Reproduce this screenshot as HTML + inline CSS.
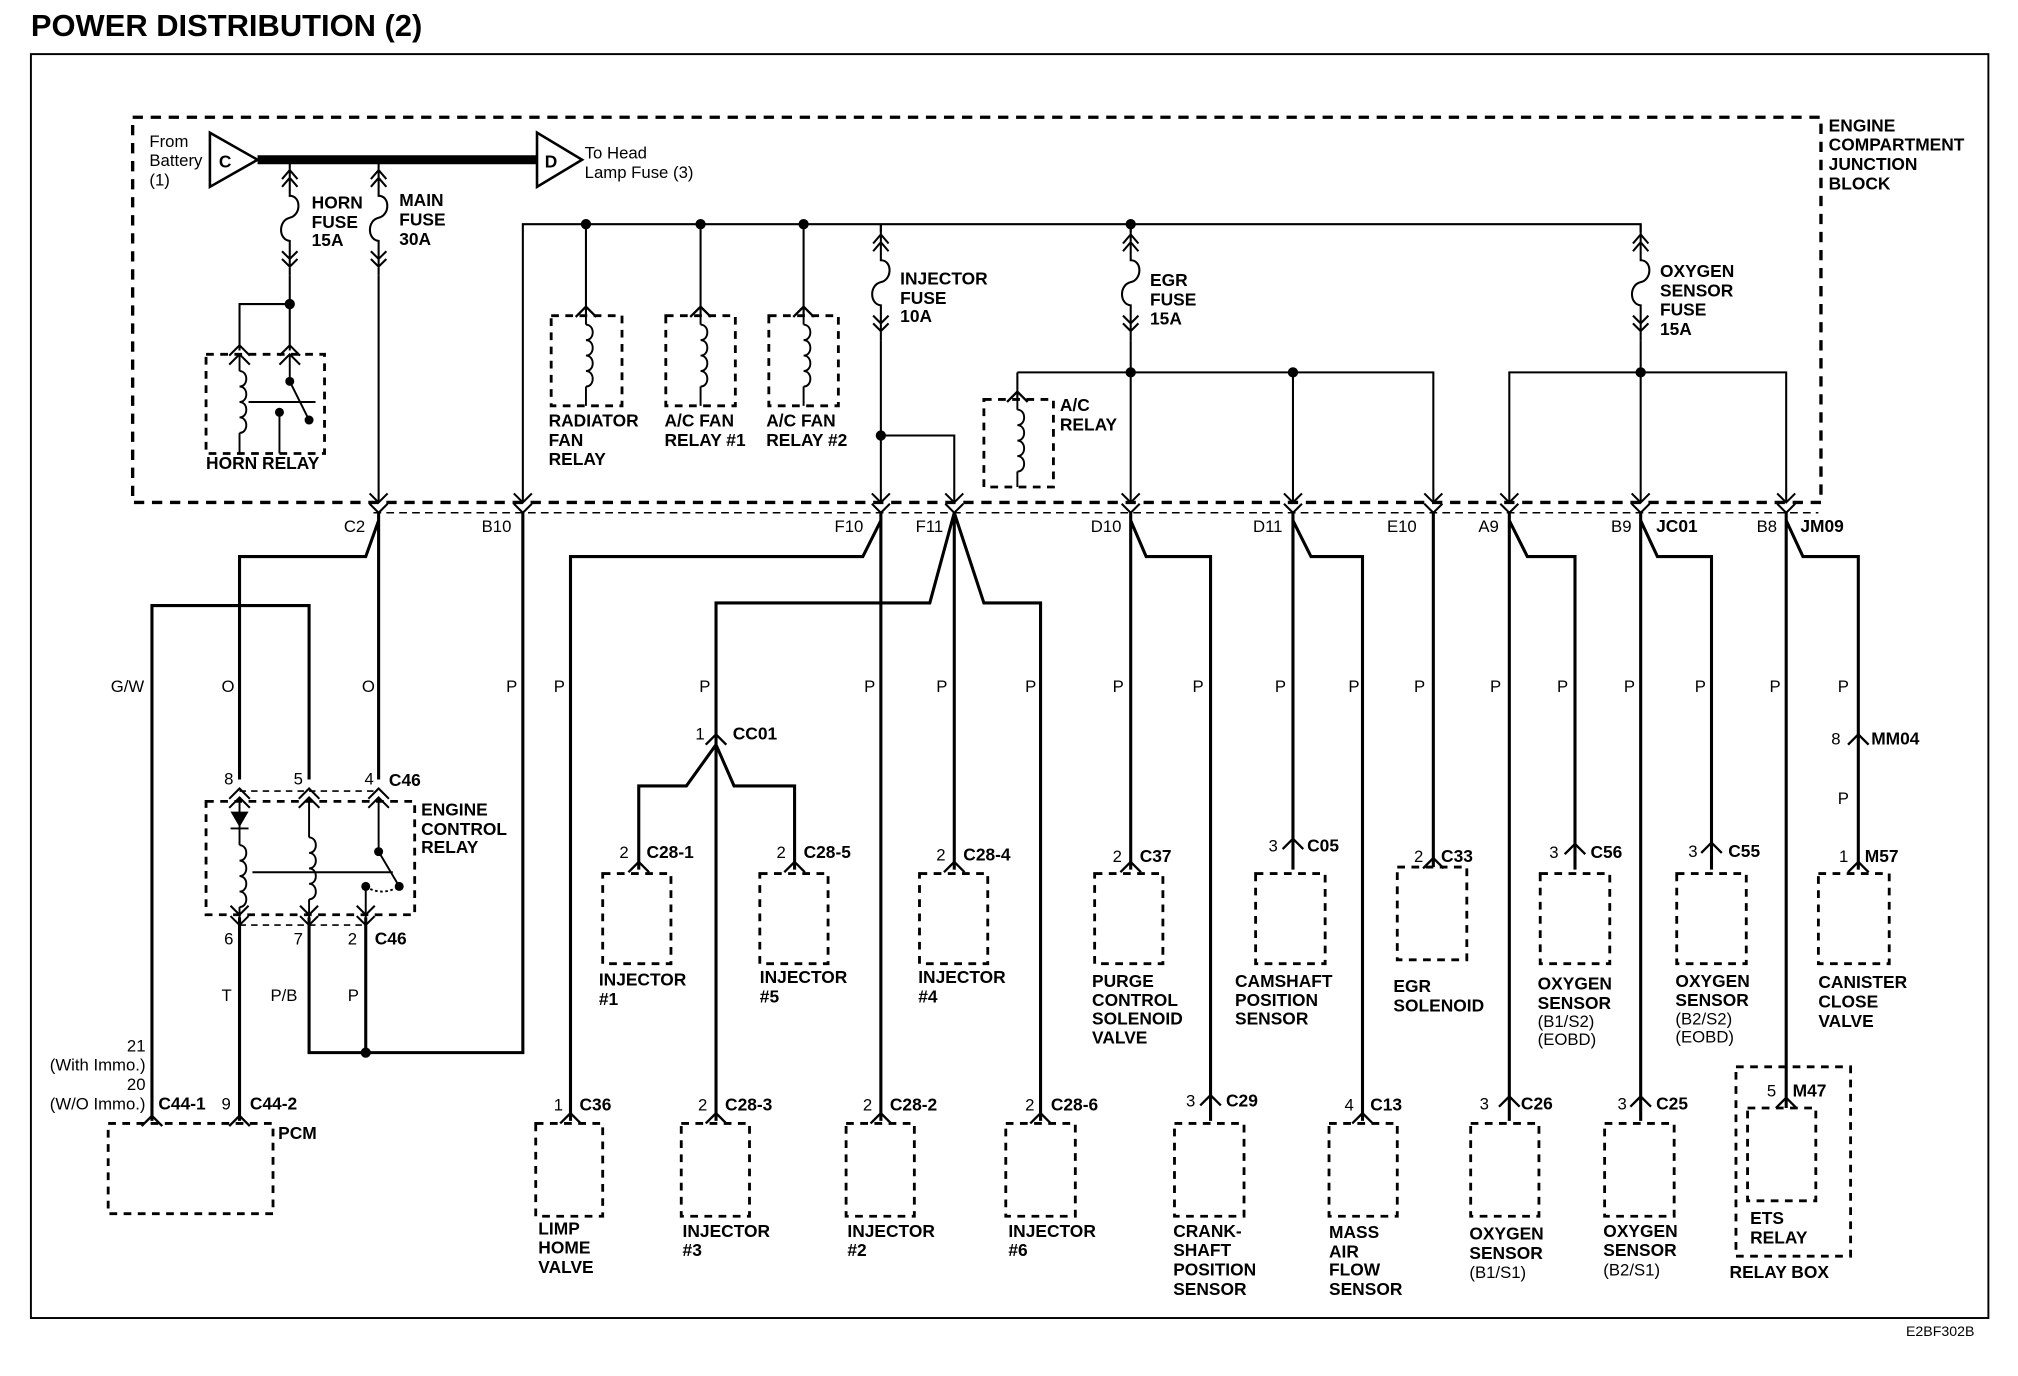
<!DOCTYPE html>
<html><head><meta charset="utf-8"><style>
html,body{margin:0;padding:0;background:#fff}
svg{display:block}
text{font-family:"Liberation Sans",Arial,sans-serif;fill:#000}
.b{font-weight:bold;font-size:13.5px}
.r{font-size:13px}
.t{font-weight:bold;font-size:24px}
</style></head><body>
<svg width="2018" height="1376" viewBox="0 0 1567 1068" preserveAspectRatio="none" xmlns="http://www.w3.org/2000/svg">
<defs>
<path id="cd" d="M-7,-15 L0,-8 L7,-15 M-7,-7 L0,0 L7,-7" fill="none" stroke="#000" stroke-width="1.6"/>
<path id="cu" d="M-8,8 L0,0 L8,8" fill="none" stroke="#000" stroke-width="1.8"/>
<path id="cu2" d="M-8,8 L0,0 L8,8 M-8,15 L0,7 L8,15" fill="none" stroke="#000" stroke-width="1.6"/>
<path id="fz" d="M0,0 V8 M-6,15 L0,8 L6,15 M-6,21 L0,14 L6,21 M0,8 V28 c9,0 9,15 0,17 c-9,2 -9,17 0,18 V81 M-6,71 L0,77 L6,71 M-6,77 L0,83 L6,77 M0,77 V90" fill="none" stroke="#000" stroke-width="1.6"/>
<path id="cl" d="M0,0 c7,0 7,12 0,12 c7,0 7,12 0,12 c7,0 7,12 0,12 c7,0 7,12 0,12" fill="none" stroke="#000" stroke-width="1.5"/>
</defs>
<rect width="1567" height="1068" fill="#fff"/>
<text x="24" y="28" class="t">POWER DISTRIBUTION (2)</text>
<rect x="24" y="42" width="1520" height="981" fill="none" stroke="#000" stroke-width="1.5"/>
<text x="1480" y="1037" class="r" style="font-size:11px">E2BF302B</text>

<rect x="103" y="91" width="1311" height="299" fill="none" stroke="#000" stroke-width="2.6" stroke-dasharray="8,6"/>
<text class="b"><tspan x="1420" y="102">ENGINE</tspan><tspan x="1420" y="117">COMPARTMENT</tspan><tspan x="1420" y="132">JUNCTION</tspan><tspan x="1420" y="147">BLOCK</tspan></text>
<line x1="290" y1="398" x2="1412" y2="398" stroke="#000" stroke-width="1.2" stroke-dasharray="6,4"/>

<text class="r"><tspan x="116" y="114">From</tspan><tspan x="116" y="129">Battery</tspan><tspan x="116" y="144">(1)</tspan></text>
<polygon points="163,103 163,145 200,124" fill="#fff" stroke="#000" stroke-width="2"/>
<text x="170" y="130" class="b">C</text>
<line x1="200" y1="124" x2="418" y2="124" stroke="#000" stroke-width="7"/>
<polygon points="417,103 417,145 452,124" fill="#fff" stroke="#000" stroke-width="2"/>
<text x="423" y="130" class="b">D</text>
<text class="r"><tspan x="454" y="123">To Head</tspan><tspan x="454" y="138">Lamp Fuse (3)</tspan></text>

<g fill="none" stroke="#000" stroke-width="1.6">
<use href="#fz" x="225" y="124"/>
<use href="#fz" x="294" y="124"/>
<path d="M225,214 V272 M225,236 H186 V272 M294,214 V390"/>
<path d="M406,390 V174 H1274 V180 M455,174 V245 M544,174 V245 M624,174 V245 M684,174 V180 M684,264 V390 M684,338 H741 V390 M878,174 V180 M878,264 V390 M790,289 H1113 V390 M790,289 V310 M1004,289 V390 M1274,264 V390 M1172,390 V289 H1387 V390"/>
</g>
<use href="#fz" x="684" y="174"/>
<use href="#fz" x="878" y="174"/>
<use href="#fz" x="1274" y="174"/>
<g fill="#000">
<circle cx="225" cy="236" r="4"/><circle cx="455" cy="174" r="4"/><circle cx="544" cy="174" r="4"/><circle cx="624" cy="174" r="4"/><circle cx="878" cy="174" r="4"/><circle cx="684" cy="338" r="4"/><circle cx="878" cy="289" r="4"/><circle cx="1004" cy="289" r="4"/><circle cx="1274" cy="289" r="4"/>
</g>
<text class="b"><tspan x="242" y="162">HORN</tspan><tspan x="242" y="177">FUSE</tspan><tspan x="242" y="191">15A</tspan></text>
<text class="b"><tspan x="310" y="160">MAIN</tspan><tspan x="310" y="175">FUSE</tspan><tspan x="310" y="190">30A</tspan></text>
<text class="b"><tspan x="699" y="221">INJECTOR</tspan><tspan x="699" y="236">FUSE</tspan><tspan x="699" y="250">10A</tspan></text>
<text class="b"><tspan x="893" y="222">EGR</tspan><tspan x="893" y="237">FUSE</tspan><tspan x="893" y="252">15A</tspan></text>
<text class="b"><tspan x="1289" y="215">OXYGEN</tspan><tspan x="1289" y="230">SENSOR</tspan><tspan x="1289" y="245">FUSE</tspan><tspan x="1289" y="260">15A</tspan></text>

<rect x="160" y="275" width="92" height="77" fill="none" stroke="#000" stroke-width="2.2" stroke-dasharray="6,5"/>
<use href="#cu2" x="186" y="268"/><use href="#cu2" x="225" y="268"/>
<g fill="none" stroke="#000" stroke-width="1.5">
<path d="M186,276 V288"/><use href="#cl" x="186" y="288"/><path d="M186,336 V352 M225,276 V296 L240,326 M217,320 V352 M193,312 H245" />
</g>
<circle cx="225" cy="296" r="3.5"/><circle cx="240" cy="326" r="3.5"/><circle cx="217" cy="320" r="3.5"/>
<text x="160" y="364" class="b">HORN RELAY</text>

<g fill="none" stroke="#000" stroke-width="2.2" stroke-dasharray="6,5">
<rect x="428" y="245" width="55" height="70"/><rect x="517" y="245" width="54" height="70"/><rect x="597" y="245" width="54" height="70"/><rect x="764" y="310" width="54" height="68"/>
</g>
<use href="#cu" x="455" y="238"/><use href="#cu" x="544" y="238"/><use href="#cu" x="624" y="238"/><use href="#cu" x="790" y="304"/>
<use href="#cl" x="455" y="252"/><use href="#cl" x="544" y="252"/><use href="#cl" x="624" y="252"/><use href="#cl" x="790" y="318"/>
<g stroke="#000" stroke-width="1.5"><path d="M455,238 V252 M455,300 V315 M544,238 V252 M544,300 V315 M624,238 V252 M624,300 V315 M790,304 V318 M790,366 V378"/></g>
<text class="b"><tspan x="426" y="331">RADIATOR</tspan><tspan x="426" y="346">FAN</tspan><tspan x="426" y="361">RELAY</tspan></text>
<text class="b"><tspan x="516" y="331">A/C FAN</tspan><tspan x="516" y="346">RELAY #1</tspan></text>
<text class="b"><tspan x="595" y="331">A/C FAN</tspan><tspan x="595" y="346">RELAY #2</tspan></text>
<text class="b"><tspan x="823" y="319">A/C</tspan><tspan x="823" y="334">RELAY</tspan></text>

<use href="#cd" x="294" y="398"/><use href="#cd" x="406" y="398"/><use href="#cd" x="684" y="398"/><use href="#cd" x="741" y="398"/><use href="#cd" x="878" y="398"/><use href="#cd" x="1004" y="398"/><use href="#cd" x="1113" y="398"/><use href="#cd" x="1172" y="398"/><use href="#cd" x="1274" y="398"/><use href="#cd" x="1387" y="398"/>
<g class="r"><text x="267" y="413">C2</text><text x="374" y="413">B10</text><text x="648" y="413">F10</text><text x="711" y="413">F11</text><text x="847" y="413">D10</text><text x="973" y="413">D11</text><text x="1077" y="413">E10</text><text x="1148" y="413">A9</text><text x="1251" y="413">B9</text><text x="1364" y="413">B8</text></g>
<text x="1286" y="413" class="b">JC01</text><text x="1398" y="413" class="b">JM09</text>

<g fill="none" stroke="#000" stroke-width="2.4">
<path d="M294,398 V605 M294,404 L284,432 H186 V605 M118,870 V470 H240 V605"/>
<path d="M186,712 V870 M240,712 V817 H406 V398 M284,712 V817"/>
<path d="M684,398 V870 M684,404 L670,432 H443 V870"/>
<path d="M741,398 L722,468 H556 V870 M741,398 L764,468 H808 V870 M741,398 V675 M556,578 L533,610 H496 V675 M556,578 L570,610 H617 V675"/>
<path d="M878,398 V675 M878,404 L890,432 H940 V870"/>
<path d="M1004,398 V675 M1004,404 L1018,432 H1058 V870"/>
<path d="M1113,398 V673"/>
<path d="M1172,398 V870 M1172,404 L1186,432 H1223 V675"/>
<path d="M1274,398 V870 M1274,404 L1287,432 H1329 V675"/>
<path d="M1387,398 V860 M1387,404 L1400,432 H1443 V675"/>
</g>
<circle cx="284" cy="817" r="4"/>

<g class="r">
<text x="86" y="537">G/W</text><text x="172" y="537">O</text><text x="281" y="537">O</text><text x="393" y="537">P</text><text x="430" y="537">P</text><text x="543" y="537">P</text><text x="671" y="537">P</text><text x="727" y="537">P</text><text x="796" y="537">P</text><text x="864" y="537">P</text><text x="926" y="537">P</text><text x="990" y="537">P</text><text x="1047" y="537">P</text><text x="1098" y="537">P</text><text x="1157" y="537">P</text><text x="1209" y="537">P</text><text x="1261" y="537">P</text><text x="1316" y="537">P</text><text x="1374" y="537">P</text><text x="1427" y="537">P</text><text x="1427" y="624">P</text>
<text x="172" y="777">T</text><text x="210" y="777">P/B</text><text x="270" y="777">P</text>
</g>

<rect x="160" y="622" width="162" height="88" fill="none" stroke="#000" stroke-width="2.2" stroke-dasharray="6,5"/>
<line x1="186" y1="614" x2="294" y2="614" stroke="#000" stroke-width="1.2" stroke-dasharray="5,4"/>
<line x1="186" y1="718" x2="284" y2="718" stroke="#000" stroke-width="1.2" stroke-dasharray="5,4"/>
<use href="#cu2" x="186" y="612"/><use href="#cu2" x="240" y="612"/><use href="#cu2" x="294" y="612"/>
<use href="#cd" x="186" y="718"/><use href="#cd" x="240" y="718"/><use href="#cd" x="284" y="718"/>
<polygon points="179,630 193,630 186,642" fill="#000"/>
<g fill="none" stroke="#000" stroke-width="1.5">
<path d="M186,620 V656 M179,643 H193"/><use href="#cl" x="186" y="656"/><path d="M186,704 V718"/>
<path d="M240,620 V650"/><use href="#cl" x="240" y="650"/><path d="M240,698 V718"/>
<path d="M294,620 V661 L310,688 M284,688 V718 M196,677 H305"/>
<path d="M284,688 Q296,696 310,688" stroke-dasharray="2,2"/>
</g>
<circle cx="294" cy="661" r="3.5"/><circle cx="310" cy="688" r="3.5"/><circle cx="284" cy="688" r="3.5"/>
<g class="r"><text x="174" y="609">8</text><text x="228" y="609">5</text><text x="283" y="609">4</text><text x="174" y="733">6</text><text x="228" y="733">7</text><text x="270" y="733">2</text></g>
<text x="302" y="610" class="b">C46</text><text x="291" y="733" class="b">C46</text>
<text class="b"><tspan x="327" y="633">ENGINE</tspan><tspan x="327" y="648">CONTROL</tspan><tspan x="327" y="662">RELAY</tspan></text>

<rect x="84" y="872" width="128" height="70" fill="none" stroke="#000" stroke-width="2.2" stroke-dasharray="6,5"/>
<use href="#cu" x="118" y="866"/><use href="#cu" x="186" y="866"/>
<g class="r" text-anchor="end"><text x="113" y="816">21</text><text x="113" y="831">(With Immo.)</text><text x="113" y="846">20</text><text x="113" y="861">(W/O Immo.)</text></g>
<text x="172" y="861" class="r">9</text>
<text x="123" y="861" class="b">C44-1</text><text x="194" y="861" class="b">C44-2</text><text x="216" y="884" class="b">PCM</text>

<use href="#cu" x="556" y="570"/><text x="540" y="574" class="r">1</text><text x="569" y="574" class="b">CC01</text>
<use href="#cu" x="1443" y="570"/><text x="1422" y="578" class="r">8</text><text x="1453" y="578" class="b">MM04</text>

<g fill="none" stroke="#000" stroke-width="2.2" stroke-dasharray="6,5">
<rect x="468" y="678" width="53" height="70"/><rect x="590" y="678" width="53" height="70"/><rect x="714" y="678" width="53" height="70"/><rect x="850" y="678" width="53" height="70"/><rect x="975" y="678" width="54" height="70"/><rect x="1085" y="673" width="54" height="72"/><rect x="1196" y="678" width="54" height="70"/><rect x="1302" y="678" width="54" height="70"/><rect x="1412" y="678" width="55" height="70"/>
<rect x="416" y="872" width="52" height="72"/><rect x="529" y="872" width="53" height="72"/><rect x="657" y="872" width="53" height="72"/><rect x="781" y="872" width="54" height="72"/><rect x="912" y="872" width="54" height="72"/><rect x="1032" y="872" width="53" height="72"/><rect x="1142" y="872" width="53" height="72"/><rect x="1246" y="872" width="54" height="72"/>
<rect x="1348" y="828" width="89" height="147"/><rect x="1357" y="860" width="53" height="72"/>
</g>
<use href="#cu" x="496" y="669"/><use href="#cu" x="617" y="669"/><use href="#cu" x="741" y="669"/><use href="#cu" x="878" y="669"/><use href="#cu" x="1004" y="651"/><use href="#cu" x="1113" y="666"/><use href="#cu" x="1223" y="655"/><use href="#cu" x="1329" y="654"/><use href="#cu" x="1443" y="669"/>
<use href="#cu" x="443" y="864"/><use href="#cu" x="556" y="864"/><use href="#cu" x="684" y="864"/><use href="#cu" x="808" y="864"/><use href="#cu" x="940" y="850"/><use href="#cu" x="1058" y="864"/><use href="#cu" x="1172" y="851"/><use href="#cu" x="1274" y="851"/><use href="#cu" x="1387" y="852"/>
<g class="r">
<text x="481" y="666">2</text><text x="603" y="666">2</text><text x="727" y="668">2</text><text x="864" y="669">2</text><text x="985" y="661">3</text><text x="1098" y="669">2</text><text x="1203" y="666">3</text><text x="1311" y="665">3</text><text x="1428" y="669">1</text>
<text x="430" y="862">1</text><text x="542" y="862">2</text><text x="670" y="862">2</text><text x="796" y="862">2</text><text x="921" y="859">3</text><text x="1044" y="862">4</text><text x="1149" y="861">3</text><text x="1256" y="861">3</text><text x="1372" y="851">5</text>
</g>
<g class="b">
<text x="502" y="666">C28-1</text><text x="624" y="666">C28-5</text><text x="748" y="668">C28-4</text><text x="885" y="669">C37</text><text x="1015" y="661">C05</text><text x="1119" y="669">C33</text><text x="1235" y="666">C56</text><text x="1342" y="665">C55</text><text x="1448" y="669">M57</text>
<text x="450" y="862">C36</text><text x="563" y="862">C28-3</text><text x="691" y="862">C28-2</text><text x="816" y="862">C28-6</text><text x="952" y="859">C29</text><text x="1064" y="862">C13</text><text x="1181" y="861">C26</text><text x="1286" y="861">C25</text><text x="1392" y="851">M47</text>
</g>
<g class="b">
<text><tspan x="465" y="765">INJECTOR</tspan><tspan x="465" y="780">#1</tspan></text>
<text><tspan x="590" y="763">INJECTOR</tspan><tspan x="590" y="778">#5</tspan></text>
<text><tspan x="713" y="763">INJECTOR</tspan><tspan x="713" y="778">#4</tspan></text>
<text><tspan x="848" y="766">PURGE</tspan><tspan x="848" y="781">CONTROL</tspan><tspan x="848" y="795">SOLENOID</tspan><tspan x="848" y="810">VALVE</tspan></text>
<text><tspan x="959" y="766">CAMSHAFT</tspan><tspan x="959" y="781">POSITION</tspan><tspan x="959" y="795">SENSOR</tspan></text>
<text><tspan x="1082" y="770">EGR</tspan><tspan x="1082" y="785">SOLENOID</tspan></text>
<text><tspan x="1194" y="768">OXYGEN</tspan><tspan x="1194" y="783">SENSOR</tspan></text>
<text><tspan x="1301" y="766">OXYGEN</tspan><tspan x="1301" y="781">SENSOR</tspan></text>
<text><tspan x="1412" y="767">CANISTER</tspan><tspan x="1412" y="782">CLOSE</tspan><tspan x="1412" y="797">VALVE</tspan></text>
<text><tspan x="418" y="958">LIMP</tspan><tspan x="418" y="973">HOME</tspan><tspan x="418" y="988">VALVE</tspan></text>
<text><tspan x="530" y="960">INJECTOR</tspan><tspan x="530" y="975">#3</tspan></text>
<text><tspan x="658" y="960">INJECTOR</tspan><tspan x="658" y="975">#2</tspan></text>
<text><tspan x="783" y="960">INJECTOR</tspan><tspan x="783" y="975">#6</tspan></text>
<text><tspan x="911" y="960">CRANK-</tspan><tspan x="911" y="975">SHAFT</tspan><tspan x="911" y="990">POSITION</tspan><tspan x="911" y="1005">SENSOR</tspan></text>
<text><tspan x="1032" y="961">MASS</tspan><tspan x="1032" y="976">AIR</tspan><tspan x="1032" y="990">FLOW</tspan><tspan x="1032" y="1005">SENSOR</tspan></text>
<text><tspan x="1141" y="962">OXYGEN</tspan><tspan x="1141" y="977">SENSOR</tspan></text>
<text><tspan x="1245" y="960">OXYGEN</tspan><tspan x="1245" y="975">SENSOR</tspan></text>
<text><tspan x="1359" y="950">ETS</tspan><tspan x="1359" y="965">RELAY</tspan></text>
<text x="1343" y="992">RELAY BOX</text>
</g>
<g class="r">
<text><tspan x="1194" y="797">(B1/S2)</tspan><tspan x="1194" y="811">(EOBD)</tspan></text>
<text><tspan x="1301" y="795">(B2/S2)</tspan><tspan x="1301" y="809">(EOBD)</tspan></text>
<text x="1141" y="992">(B1/S1)</text>
<text x="1245" y="990">(B2/S1)</text>
</g>
</svg>
</body></html>
